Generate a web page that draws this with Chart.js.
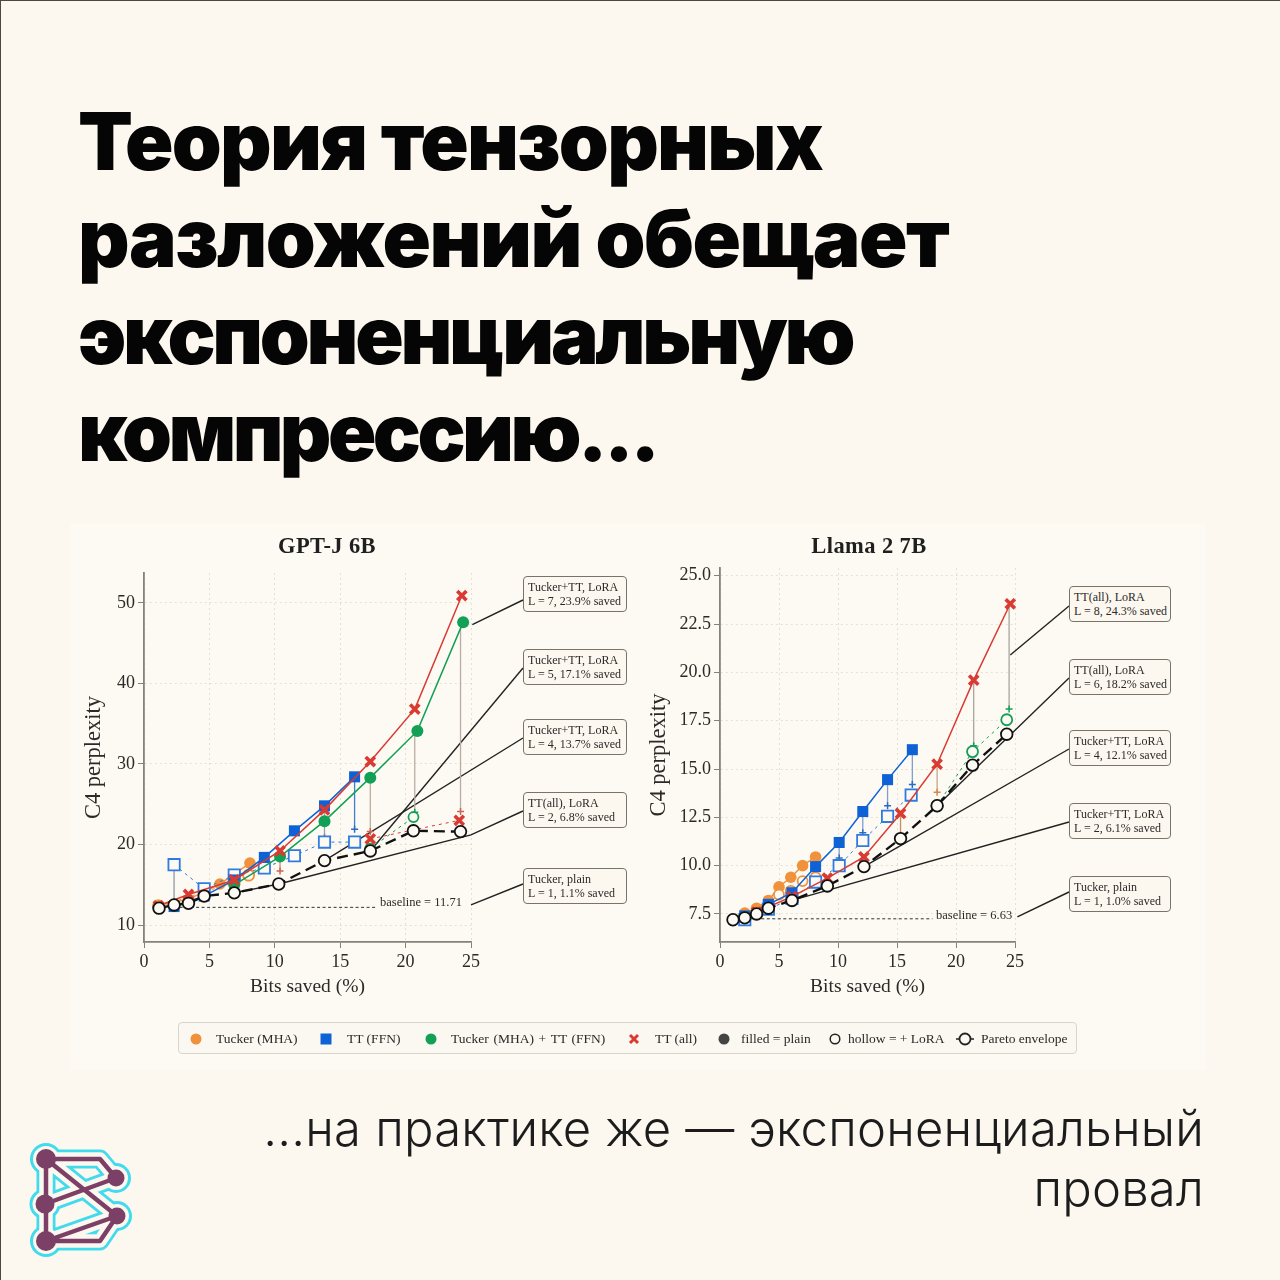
<!DOCTYPE html>
<html lang="ru">
<head>
<meta charset="utf-8">
<title>Тензорные разложения</title>
<script src="https://cdn.jsdelivr.net/npm/chart.js@4"></script>
<style>
    html, body { margin: 0; padding: 0; background: #fcf8f0; }
    #page { position: relative; width: 1280px; height: 1280px; overflow: hidden; background: #fcf8f0; font-family: 'Liberation Serif', serif; color: #2b2a28; box-sizing: border-box; }
    #frame { position: absolute; left: 0; top: 0; width: 1280px; height: 1280px; box-sizing: border-box; border-top: 1px solid #4a4844; border-left: 1px solid #4a4844; pointer-events: none; }
    #panel { position: absolute; left: 70px; top: 524px; width: 1136px; height: 546px; background: #fdfaf4; }
    h1 { position: absolute; left: 78px; top: 92px; margin: 0; font: 900 80px/97px Inter, sans-serif; color: #050505; white-space: nowrap; }
    h1 span { display: block; }
    #caption { position: absolute; right: 76px; top: 1099px; margin: 0; font: 300 49px/60px Inter, sans-serif; letter-spacing: 0.2px; text-align: right; color: #1c1c1c; white-space: nowrap; }
    canvas { position: absolute; }
    .chart-title { position: absolute; top: 533px; font: bold 22.5px/26px 'Liberation Serif', serif; letter-spacing: 0.4px; color: #1f1f1f; transform: translateX(-50%); white-space: nowrap; }
    .callout { position: absolute; box-sizing: border-box; border: 1.6px solid #77746d; border-radius: 4px; background: #fcf8f0; font-size: 12px; line-height: 14px; padding: 3px 0 0 4px; white-space: nowrap; }
    .baseline { position: absolute; font-size: 12.5px; line-height: 14px; white-space: nowrap; }
    #legend { position: absolute; left: 178px; top: 1022px; width: 899px; height: 32px; box-sizing: border-box; border: 1.5px solid #d9d5cb; border-radius: 4px; background: #fbf8f1; }
    .legend-text { position: absolute; top: 1032px; font-size: 13.5px; line-height: 14px; white-space: nowrap; }
    #legendMarks, #logo { position: absolute; left: 0; top: 0; }
</style>
</head>
<body>
<div id="page">
    <div id="panel"></div>
    <h1><span style="letter-spacing:-1.7px">Теория тензорных</span><span style="letter-spacing:-1.5px">разложений обещает</span><span style="letter-spacing:-3.3px">экспоненциальную</span><span style="letter-spacing:-3.6px">компрессию...</span></h1>
    <p id="caption">...на практике же — экспоненциальный<br>провал</p>
    <canvas id="gptjChart" width="570" height="470" style="left:70px;top:530px;width:570px;height:470px"></canvas>
    <canvas id="llamaChart" width="560" height="470" style="left:640px;top:530px;width:560px;height:470px"></canvas>
    <div class="chart-title" style="left:327px">GPT-J 6B</div>
    <div class="chart-title" style="left:869px">Llama 2 7B</div>
    <div id="legend"></div>
    <svg id="legendMarks" width="1280" height="1280" style="pointer-events:none">
        <circle cx="196" cy="1039" r="5.5" fill="#f0923b"/>
        <rect x="320.5" y="1033.5" width="11" height="11" fill="#0f62d6"/>
        <circle cx="431" cy="1039" r="5.5" fill="#11a055"/>
        <path d="M630 1035 L638 1043 M638 1035 L630 1043" stroke="#d93a32" stroke-width="3"/>
        <circle cx="724" cy="1039" r="5.5" fill="#444"/>
        <circle cx="835" cy="1039" r="4.8" fill="none" stroke="#222" stroke-width="1.5"/>
        <path d="M956 1039 H974" stroke="#222" stroke-width="1.5"/>
        <circle cx="965" cy="1039" r="5.5" fill="#fdf9f3" stroke="#222" stroke-width="1.8"/>
    </svg>
    <svg id="logo" width="1280" height="1280" style="pointer-events:none">
        <g style="filter:blur(0.5px)">
            <g fill="#42dbee">
                <circle cx="46" cy="1159" r="16"/><circle cx="116" cy="1178" r="15"/><circle cx="45" cy="1204" r="15.5"/><circle cx="117" cy="1216" r="15"/><circle cx="46" cy="1241" r="16"/>
            </g>
            <g fill="none" stroke-linejoin="round" stroke-linecap="round">
                <path stroke="#42dbee" stroke-width="19" d="M46 1159 H100 L116 1178 M46 1159 L117 1216 M46 1159 V1241 M45 1204 L116 1178 M46 1241 L117 1216 M46 1241 H100 L117 1216"/>
                <path stroke="#fcf8f0" stroke-width="13.5" d="M46 1159 H100 L116 1178 M46 1159 L117 1216 M46 1159 V1241 M45 1204 L116 1178 M46 1241 L117 1216 M46 1241 H100 L117 1216"/>
            </g>
            <g fill="#fcf8f0">
                <circle cx="46" cy="1159" r="13"/><circle cx="116" cy="1178" r="12"/><circle cx="45" cy="1204" r="12.5"/><circle cx="117" cy="1216" r="12"/><circle cx="46" cy="1241" r="13"/>
            </g>
            <path fill="none" stroke="#7c3f66" stroke-width="4.5" stroke-linejoin="round" d="M46 1159 H100 L116 1178 M46 1159 L117 1216 M46 1159 V1241 M45 1204 L116 1178 M46 1241 L117 1216 M46 1241 H100 L117 1216"/>
            <g fill="#7c3f66">
                <circle cx="46" cy="1159" r="10"/><circle cx="116" cy="1178" r="8.5"/><circle cx="45" cy="1204" r="9.5"/><circle cx="117" cy="1216" r="8.5"/><circle cx="46" cy="1241" r="10"/>
            </g>
        </g>
    </svg>
    <div id="frame"></div>
</div>

<script>
// GPT-J 6B as [bits saved, perplexity]
const gptjPareto = [[1.15,12.1],[2.3,12.5],[3.4,12.7],[4.6,13.6],[6.9,14.0],[10.3,15.1],[13.8,18.0],[17.3,19.2],[20.6,21.7],[24.2,21.6]];
const gptjTucker = [[1.1,12.5],[3.4,13.2],[5.8,15.1],[8.1,17.7]];
const gptjTuckerLora = [[1.1,12.3],[6.9,15.3],[8.0,16.2]];
const gptjTT = [[2.3,12.3],[4.6,13.6],[6.9,15.6],[9.2,18.4],[11.5,21.7],[13.8,24.8],[16.1,28.4]];
const gptjTTLora = [[2.3,17.5],[4.6,14.5],[6.9,16.2],[9.2,17.1],[11.5,18.6],[13.8,20.3],[16.1,20.3]];
const gptjBoth = [[6.9,15.0],[10.4,18.5],[13.8,22.9],[17.3,28.3],[20.9,34.1],[24.4,47.6]];
const gptjBothLora = [[17.3,19.5],[20.6,23.4]];
const gptjAll = [[1.1,12.4],[3.4,13.8],[6.9,15.6],[10.4,19.2],[13.8,24.3],[17.3,30.3],[20.7,36.8],[24.3,50.9]];
const gptjAllLora = [[17.3,20.7],[24.1,23.0]];
const gptjBaseline = [[2.3,12.2],[17.8,12.2]];
// [x, from, to, line colour, tip colour]
const gptjDrops = [[2.3,17.5,12.9,'#8f98a8','#c96a55'],[10.4,19.2,16.7,'#c98d7c','#d0634f'],[13.8,24.3,20.9,'#8fa89a','#c96a55'],[16.1,28.4,21.9,'#3d7fd0','#2a6cc4'],[17.3,28.3,21.6,'#b8ada0','#d0634f'],[20.7,34.1,24.0,'#b8ada0','#11a055'],[24.2,47.6,24.1,'#b8ada0','#d0634f']];
const gptjXTicks = [0,5,10,15,20,25];
const gptjYTicks = [10,20,30,40,50];

// Llama 2 7B
const llamaPareto = [[1.1,7.2],[2.1,7.3],[3.1,7.5],[4.1,7.8],[6.1,8.2],[9.1,8.95],[12.2,9.95],[15.3,11.4],[18.4,13.1],[21.4,15.2],[24.3,16.8]];
const llamaTucker = [[2.1,7.55],[3.1,7.8],[4.1,8.2],[5.0,8.9],[6.0,9.4],[7.0,10.0],[8.1,10.45]];
const llamaTuckerLora = [[3.1,7.6],[4.1,8.0],[5.0,8.5],[6.0,8.7],[7.0,9.2],[8.1,9.4]];
const llamaTT = [[2.1,7.4],[4.1,8.0],[6.1,8.6],[8.1,9.95],[10.1,11.2],[12.1,12.8],[14.2,14.45],[16.3,16.0]];
const llamaTTLora = [[2.1,7.2],[4.1,7.75],[6.1,8.3],[8.1,9.15],[10.1,10.0],[12.1,11.3],[14.2,12.55],[16.2,13.65]];
const llamaBothLora = [[18.4,13.1],[21.4,15.9],[24.3,17.55]];
const llamaAll = [[3.1,7.6],[6.1,8.4],[9.1,9.35],[12.2,10.45],[15.3,12.7],[18.4,15.25],[21.5,19.6],[24.6,23.55]];
const llamaBaseline = [[2.1,7.25],[18,7.25]];
const llamaDrops = [[10.1,11.2,10.4,'#7f9fd0','#2a6cc4'],[12.1,12.8,11.7,'#7f9fd0','#2a6cc4'],[14.2,14.45,13.1,'#7f9fd0','#2a6cc4'],[16.3,16.0,14.2,'#7f9fd0','#2a6cc4'],[15.3,12.7,11.6,'#c98d5c','#d08a4a'],[18.4,15.25,13.8,'#c9a58c','#d08a4a'],[21.5,19.6,16.2,'#a8a59c','#11a055'],[24.5,23.55,18.1,'#a8a59c','#11a055']];
const llamaXTicks = [0,5,10,15,20,25];
const llamaYTicks = [7.5,10,12.5,15,17.5,20,22.5,25];

// callout boxes: text lines, box edge [x, y] on the page, and the data point the leader runs to
const gptjCallouts = [
    { lines: ['Tucker+TT, LoRA','L = 7, 23.9% saved'], box: [523,576,104,36], from: [523,600], via: [[25.1,47.3]] },
    { lines: ['Tucker+TT, LoRA','L = 5, 17.1% saved'], box: [523,649,104,36], from: [523,668], via: [[17.3,19.2]] },
    { lines: ['Tucker+TT, LoRA','L = 4, 13.7% saved'], box: [523,719,104,36], from: [523,738], via: [[13.8,18.0]] },
    { lines: ['TT(all), LoRA','L = 2, 6.8% saved'], box: [523,792,104,36], from: [523,811], via: [[25.0,21.2],[10.3,15.1],[6.9,14.0]] },
    { lines: ['Tucker, plain','L = 1, 1.1% saved'], box: [523,868,104,36], from: [523,884], via: [[25.0,12.5]] }
];
const llamaCallouts = [
    { lines: ['TT(all), LoRA','L = 8, 24.3% saved'], box: [1069,586,102,36], from: [1069,606], via: [[24.6,20.9]] },
    { lines: ['TT(all), LoRA','L = 6, 18.2% saved'], box: [1069,659,102,36], from: [1069,678], via: [[18.4,13.1]] },
    { lines: ['Tucker+TT, LoRA','L = 4, 12.1% saved'], box: [1069,730,102,36], from: [1069,749], via: [[12.2,9.95]] },
    { lines: ['Tucker+TT, LoRA','L = 2, 6.1% saved'], box: [1069,803,102,36], from: [1069,822], via: [[6.1,8.2]] },
    { lines: ['Tucker, plain','L = 1, 1.0% saved'], box: [1069,876,102,36], from: [1069,892], via: [[25.2,7.35]] }
];

const legendItems = [['Tucker (MHA)',216,0],['TT (FFN)',347,0],['Tucker (MHA) + TT (FFN)',451,1.3],['TT (all)',655,0],['filled = plain',741,0],['hollow = + LoRA',848,0],['Pareto envelope',981,0]];

const ORANGE = '#f0923b', BLUE = '#0f62d6', GREEN = '#11a055', RED = '#d93a32', HOLLOW = '#fdfaf4';
const SERIF = "'Liberation Serif', serif";

function toPoints(rows) {
    return rows.map(r => ({ x: r[0], y: r[1] }));
}

function plain(rows, color, style, radius) {
    return {
        data: toPoints(rows), borderColor: color, backgroundColor: color, borderWidth: 1.5,
        pointStyle: style, pointRadius: radius, pointBorderColor: color, pointBackgroundColor: color,
        pointBorderWidth: style === 'crossRot' ? 3.6 : 0, showLine: true
    };
}

function lora(rows, color, style, radius) {
    return {
        data: toPoints(rows), borderColor: color, backgroundColor: HOLLOW, borderWidth: 1, borderDash: [3, 4],
        pointStyle: style, pointRadius: radius, pointBorderColor: color,
        pointBackgroundColor: style === 'crossRot' ? color : HOLLOW,
        pointBorderWidth: style === 'crossRot' ? 3.6 : 1.8, showLine: true
    };
}

function dropLines(rows) {
    return rows.map(r => ({
        data: [{ x: r[0], y: r[1] }, { x: r[0], y: r[2] }],
        borderColor: r[3], borderWidth: 1.3, showLine: true,
        pointStyle: ['circle', 'cross'], pointRadius: [0, 3.5], pointBorderColor: r[4], pointBorderWidth: 1.5
    }));
}

function axis(title, titleSize, titleTop, ticks, min, max, fixed, fmt) {
    return {
        type: 'linear', min: min, max: max,
        afterBuildTicks: s => { s.ticks = ticks.map(v => ({ value: v })); },
        afterFit: s => {
            if (s.isHorizontal()) s.height = fixed; else s.width = fixed;
            s.paddingLeft = s.paddingRight = s.paddingTop = s.paddingBottom = 0;
        },
        title: { display: true, text: title, color: '#2b2a28', font: { family: SERIF, size: titleSize }, padding: { top: titleTop, bottom: 0 } },
        border: { display: true, color: '#85827a', width: 1.8, dash: [2, 3] },
        grid: { color: '#e6e0d4', lineWidth: 1, tickColor: '#85827a', tickLength: 6, tickBorderDash: [] },
        ticks: { color: '#2b2a28', font: { family: SERIF, size: 18 }, padding: 3, maxRotation: 0, autoSkip: false, callback: fmt || (v => v) }
    };
}

// leaders between the callout boxes and the points, below the markers
const leaderPlugin = {
    id: 'leaders',
    beforeDatasetsDraw(chart, args, opts) {
        const { ctx, scales } = chart;
        const r = chart.canvas.getBoundingClientRect();
        ctx.save();
        ctx.strokeStyle = '#222';
        ctx.lineWidth = 1.4;
        opts.items.forEach(c => {
            ctx.beginPath();
            ctx.moveTo(c.from[0] - r.left, c.from[1] - r.top);
            c.via.forEach(p => ctx.lineTo(scales.x.getPixelForValue(p[0]), scales.y.getPixelForValue(p[1])));
            ctx.stroke();
        });
        ctx.restore();
    }
};

function buildChart(id, datasets, cfg) {
    return new Chart(document.getElementById(id), {
        type: 'scatter',
        data: { datasets: datasets.map(d => Object.assign({ clip: false }, d)) },
        options: {
            responsive: false, animation: false, devicePixelRatio: 1,
            layout: { padding: cfg.padding },
            plugins: { legend: { display: false }, tooltip: { enabled: false }, leaders: { items: cfg.callouts } },
            scales: {
                x: axis('Bits saved (%)', 19.5, 0, cfg.xTicks, 0, 25, 57),
                y: axis('C4 perplexity', 22.5, cfg.yTitleTop, cfg.yTicks, cfg.yMin, cfg.yMax, cfg.yWidth, cfg.yFmt)
            }
        },
        plugins: [leaderPlugin]
    });
}

function paretoSet(rows) {
    return {
        data: toPoints(rows), borderColor: '#111', borderWidth: 2.4, borderDash: [11, 6], showLine: true,
        pointStyle: 'circle', pointRadius: 5.8, pointBorderColor: '#111', pointBackgroundColor: HOLLOW, pointBorderWidth: 1.8
    };
}

function baselineSet(rows) {
    return { data: toPoints(rows), borderColor: '#333', borderWidth: 1, borderDash: [3, 2.5], showLine: true, pointRadius: 0 };
}

buildChart('gptjChart', [
    paretoSet(gptjPareto),
    lora(gptjAllLora, RED, 'crossRot', 6.5),
    plain(gptjAll, RED, 'crossRot', 6.5),
    plain(gptjBoth, GREEN, 'circle', 6),
    lora(gptjBothLora, GREEN, 'circle', 5),
    plain(gptjTT, BLUE, 'rect', 7.8),
    lora(gptjTTLora, '#2f7be0', 'rect', 8),
    lora(gptjTuckerLora, ORANGE, 'circle', 5.5),
    plain(gptjTucker, ORANGE, 'circle', 5.8),
    ...dropLines(gptjDrops),
    baselineSet(gptjBaseline)
], {
    padding: { left: 0, right: 169, top: 43, bottom: 1 },
    xTicks: gptjXTicks, yTicks: gptjYTicks, yMin: 7.9, yMax: 53.7, yWidth: 74, yTitleTop: 11,
    callouts: gptjCallouts
});

buildChart('llamaChart', [
    paretoSet(llamaPareto),
    plain(llamaAll, RED, 'crossRot', 6.5),
    lora(llamaBothLora, GREEN, 'circle', 5.5),
    plain(llamaTT, BLUE, 'rect', 7.8),
    lora(llamaTTLora, '#2f7be0', 'rect', 8),
    lora(llamaTuckerLora, ORANGE, 'circle', 5),
    plain(llamaTucker, ORANGE, 'circle', 5.8),
    ...dropLines(llamaDrops),
    baselineSet(llamaBaseline)
], {
    padding: { left: 0, right: 185, top: 38, bottom: 1 },
    xTicks: llamaXTicks, yTicks: llamaYTicks, yMin: 6.05, yMax: 25.4, yWidth: 80, yTitleTop: 6,
    yFmt: v => v.toFixed(1),
    callouts: llamaCallouts
});

// html parts around the canvases
const page = document.getElementById('page');

function addText(cls, text, left, top) {
    const el = document.createElement('div');
    el.className = cls;
    el.textContent = text;
    el.style.left = left + 'px';
    if (top !== undefined) el.style.top = top + 'px';
    page.appendChild(el);
    return el;
}

gptjCallouts.concat(llamaCallouts).forEach(c => {
    const el = addText('callout', '', c.box[0], c.box[1]);
    el.style.width = c.box[2] + 'px';
    el.style.height = c.box[3] + 'px';
    c.lines.forEach((line, i) => {
        if (i) el.appendChild(document.createElement('br'));
        el.appendChild(document.createTextNode(line));
    });
});

addText('baseline', 'baseline = 11.71', 380, 895);
addText('baseline', 'baseline = 6.63', 936, 908);
legendItems.forEach(it => {
    addText('legend-text', it[0], it[1]).style.wordSpacing = it[2] + 'px';
});
</script>
</body>
</html>
